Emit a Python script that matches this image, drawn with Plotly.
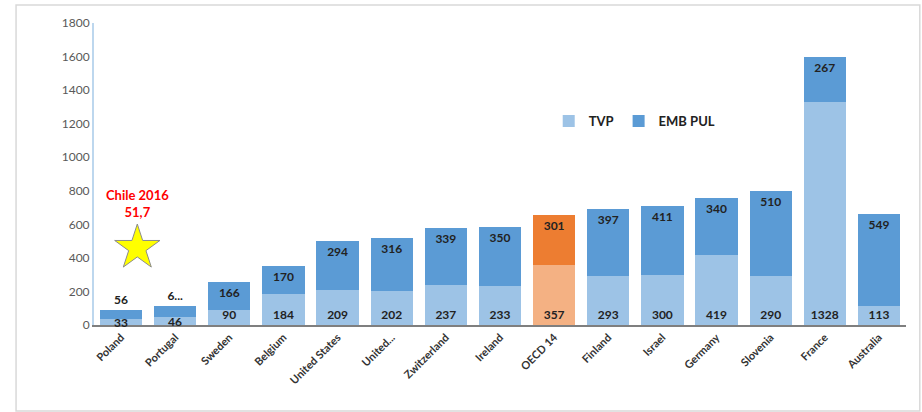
import plotly.graph_objects as go

countries = ["Poland", "Portugal", "Sweden", "Belgium", "United States", "United...",
             "Zwitzerland", "Ireland", "OECD 14", "Finland", "Israel", "Germany",
             "Slovenia", "France", "Australia"]
tvp = [33, 46, 90, 184, 209, 202, 237, 233, 357, 293, 300, 419, 290, 1328, 113]
emb_pul = [56, 66, 166, 170, 294, 316, 339, 350, 301, 397, 411, 340, 510, 267, 549]
emb_pul_labels = ["56", "6...", "166", "170", "294", "316", "339", "350", "301",
                  "397", "411", "340", "510", "267", "549"]

chile_label = "Chile 2016"
chile_value = "51,7"
chile_star_x = 0.3
chile_star_y = 460

LIGHT_BLUE = "#9DC3E6"
DARK_BLUE = "#5B9BD5"
LIGHT_ORANGE = "#F4B183"
DARK_ORANGE = "#ED7D31"
FONT = "Lato, 'Open Sans', sans-serif"

x = list(range(len(countries)))
oecd = countries.index("OECD 14")
tvp_colors = [LIGHT_ORANGE if i == oecd else LIGHT_BLUE for i in x]
emb_colors = [DARK_ORANGE if i == oecd else DARK_BLUE for i in x]
# small segments: labels go above the bar / on top of everything
emb_pos = ["outside" if v < 100 else "inside" for v in emb_pul]
tvp_text = ["" if v < 60 else str(v) for v in tvp]

label_font = {"family": FONT, "size": 12, "color": "#222222", "weight": "bold"}

fig = go.Figure()

fig.add_trace(go.Bar(
    x=x, y=tvp, name="TVP",
    marker={"color": tvp_colors, "line": {"width": 0}},
    text=tvp_text,
    textposition="inside", insidetextanchor="start",
    textfont=label_font, textangle=0,
))
fig.add_trace(go.Bar(
    x=x, y=emb_pul, name="EMB PUL",
    marker={"color": emb_colors, "line": {"width": 0}},
    text=emb_pul_labels,
    textposition=emb_pos, insidetextanchor="end",
    textfont=label_font, textangle=0, cliponaxis=False,
))

for i, v in enumerate(tvp):
    if v < 60:
        fig.add_annotation(x=i, y=v / 2, text=str(v), showarrow=False,
                           yanchor="middle", font=label_font)

# Chile reference point
fig.add_trace(go.Scatter(
    x=[chile_star_x], y=[chile_star_y], mode="markers",
    marker={"symbol": "star", "size": 34, "color": "#FFFF00",
            "line": {"color": "#8c8c8c", "width": 1}},
    showlegend=False, hoverinfo="skip",
))
fig.add_annotation(
    x=chile_star_x, y=chile_star_y, xref="x", yref="y",
    text=f"{chile_label}<br>{chile_value}", showarrow=False,
    yshift=44, font={"family": FONT, "size": 13, "color": "#FF0000", "weight": "bold"},
)

fig.update_layout(
    barmode="stack",
    bargap=0.22,
    width=922, height=412,
    margin={"l": 94, "r": 16, "t": 23, "b": 87},
    plot_bgcolor="white", paper_bgcolor="white",
    font={"family": FONT, "color": "#404040"},
    uniformtext={"mode": "show", "minsize": 12},
    legend={"orientation": "h", "traceorder": "normal",
            "x": 0.56, "y": 0.675, "xanchor": "left", "yanchor": "middle",
            "font": {"size": 13, "color": "#222222", "weight": "bold"},
            "bgcolor": "rgba(0,0,0,0)", "itemwidth": 30},
    showlegend=True,
    xaxis={
        "tickvals": x, "ticktext": countries, "tickangle": -45,
        "range": [-0.5, len(countries) - 0.5],
        "showline": True, "linecolor": "#7f7f7f", "linewidth": 1.5,
        "showgrid": False, "ticks": "", "zeroline": False,
        "tickfont": {"size": 11, "color": "#333333", "weight": "bold"},
    },
    yaxis={
        "range": [0, 1800], "dtick": 200,
        "showline": True, "linecolor": "#BDD7EE", "linewidth": 2,
        "showgrid": False, "zeroline": False, "ticks": "",
        "tickfont": {"size": 12, "color": "#595959"},
    },
    shapes=[{
        "type": "rect", "xref": "paper", "yref": "paper",
        "x0": -0.096, "x1": 1.017, "y0": -0.285, "y1": 1.06,
        "line": {"color": "#d9d9d9", "width": 1.5}, "layer": "below",
    }],
)

fig.write_html("out.html", config={"displayModeBar": False},
               post_script="document.body.style.margin='0';")
